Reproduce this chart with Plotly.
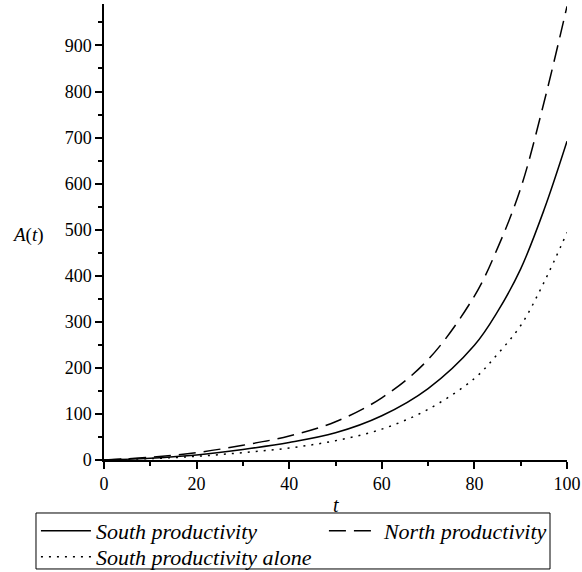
import plotly.graph_objects as go

t = [0, 10, 20, 30, 40, 50, 60, 70, 80, 85, 90, 95, 100]
south = [0, 4, 11, 23, 38, 59, 96, 155, 249, 322, 415, 542, 692]
north = [0, 6, 16, 32, 52, 83, 135, 218, 356, 460, 590, 775, 985]
south_alone = [0, 3, 8, 16, 26, 42, 67, 110, 177, 230, 292, 385, 494]

names = ["South productivity", "North productivity", "South productivity alone"]
x_ticks = [0, 20, 40, 60, 80, 100]
y_ticks = [0, 100, 200, 300, 400, 500, 600, 700, 800, 900]

FONT = "Liberation Serif"

fig = go.Figure()
fig.add_trace(go.Scatter(x=t, y=south, mode="lines", name=names[0], legend="legend",
                         line=dict(color="black", width=1.5, shape="spline", dash="solid")))
fig.add_trace(go.Scatter(x=t, y=north, mode="lines", name=names[1], legend="legend2",
                         line=dict(color="black", width=1.5, shape="spline", dash="17px,8px")))
fig.add_trace(go.Scatter(x=t, y=south_alone, mode="lines", name=names[2], legend="legend3",
                         line=dict(color="black", width=1.5, shape="spline", dash="2px,6px")))

axis_common = dict(
    showgrid=False, zeroline=False, showline=True, linecolor="black", linewidth=1.5,
    ticks="outside", ticklen=7, tickwidth=1.5, tickcolor="black",
    tickfont=dict(family=FONT, size=18, color="black"),
)
fig.update_xaxes(range=[0, 100], tickvals=x_ticks, ticktext=[str(v) for v in x_ticks],
                 minor=dict(ticks="outside", ticklen=4, tickwidth=1.5, tickcolor="black", dtick=10, tick0=0),
                 **axis_common)
fig.update_yaxes(range=[0, 990], tickvals=y_ticks, ticktext=[str(v) for v in y_ticks],
                 minor=dict(ticks="outside", ticklen=4, tickwidth=1.5, tickcolor="black", dtick=50, tick0=0),
                 **axis_common)

fig.add_annotation(text="<i>t</i>", xref="paper", yref="paper", x=0.5, y=-0.098,
                   showarrow=False, xanchor="center", yanchor="middle",
                   font=dict(family=FONT, size=20, color="black"))
fig.add_annotation(text="<i>A</i>(<i>t</i>)", xref="paper", yref="paper", x=-0.164, y=0.493,
                   showarrow=False, xanchor="center", yanchor="middle",
                   font=dict(family=FONT, size=19, color="black"))

legend_common = dict(
    orientation="v", xanchor="left", yanchor="top",
    borderwidth=0, bgcolor="rgba(0,0,0,0)",
    font=dict(family=FONT, size=22, color="black", style="italic"),
    tracegroupgap=0, itemwidth=50,
)

fig.update_layout(
    width=582, height=572,
    margin=dict(l=104, r=15, t=4, b=112, autoexpand=False),
    paper_bgcolor="white", plot_bgcolor="white",
    showlegend=True,
    legend=dict(x=-0.147, y=-0.1096, **legend_common),
    legend2=dict(x=0.475, y=-0.1096, **legend_common),
    legend3=dict(x=-0.147, y=-0.1667, **legend_common),
    shapes=[dict(type="rect", xref="paper", yref="paper", x0=-0.1469, x1=0.9633, y0=-0.1162, y1=-0.239,
                 line=dict(color="black", width=1))],
)

fig.write_html("out.html")
